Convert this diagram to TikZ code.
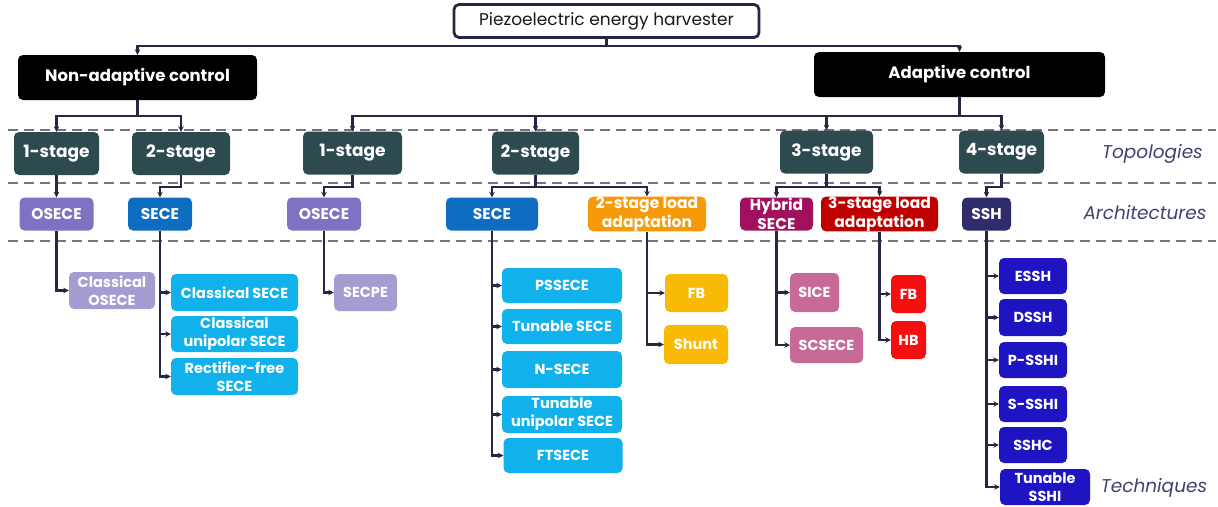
\documentclass[tikz,border=0pt]{standalone}
\usepackage{fontspec}
\setmainfont{Poppins}
\usetikzlibrary{arrows.meta}

\definecolor{topoc}{HTML}{2D4A4F}
\definecolor{osecec}{HTML}{7E72C2}
\definecolor{secec}{HTML}{0E6DC1}
\definecolor{loadtwoc}{HTML}{F79A0A}
\definecolor{hybridc}{HTML}{A1105D}
\definecolor{loadthreec}{HTML}{C00000}
\definecolor{sshc}{HTML}{2F2C6C}
\definecolor{lavc}{HTML}{A39DD1}
\definecolor{cyanc}{HTML}{11B1EC}
\definecolor{goldc}{HTML}{F8BA05}
\definecolor{pinkc}{HTML}{C86A98}
\definecolor{redc}{HTML}{F60F0F}
\definecolor{indigoc}{HTML}{1E14C2}
\definecolor{linec}{HTML}{262645}
\definecolor{labc}{HTML}{3F4270}
\definecolor{dashc}{HTML}{737382}

\begin{document}
\begin{tikzpicture}[x=1pt,y=-1pt,
  box/.style={rounded corners=5pt,text=white,align=center,inner sep=0pt},
  ctrl/.style={box,fill=black,font=\fontsize{16.5}{19}\selectfont\bfseries},
  topo/.style={box,fill=topoc,minimum height=43pt,font=\fontsize{17}{19}\selectfont\bfseries},
  arch/.style={box,minimum height=33pt,font=\fontsize{15.5}{19}\selectfont\bfseries},
  tech/.style={box,font=\fontsize{14.5}{18}\selectfont\bfseries},
  side/.style={text=labc,font=\fontsize{18.5}{22}\selectfont\itshape},
  sep/.style={draw=dashc,line width=2.4pt,dash pattern=on 10pt off 6pt},
  conn/.style={draw=linec,line width=2.2pt,-{Stealth[length=5.5pt,width=5.5pt]}}]
  \useasboundingbox (0,0) rectangle (1218,506);

  \draw[sep] (8,130) -- (1216,130);
  \draw[sep] (8,183) -- (1216,183);
  \draw[sep] (8,241) -- (1216,241);

  \node[box,draw=linec,line width=2.8pt,fill=white,text=black!90,minimum width=305pt,minimum height=33pt,font=\fontsize{17}{19}\selectfont] (P) at (606.5,21) {Piezoelectric energy harvester};
  \node[ctrl,minimum width=239pt,minimum height=45pt] (N) at (137.5,77.5) {Non-adaptive control};
  \node[ctrl,minimum width=291pt,minimum height=45pt] (A) at (959.5,74.5) {Adaptive control};

  \node[topo,minimum width=85pt] (T1a) at (56.5,153.5) {1-stage};
  \node[topo,minimum width=98pt] (T2a) at (181,153.5) {2-stage};
  \node[topo,minimum width=99pt] (T1b) at (352.5,153) {1-stage};
  \node[topo,minimum width=87pt] (T2b) at (535.5,153) {2-stage};
  \node[topo,minimum width=93pt] (T3) at (826.5,152) {3-stage};
  \node[topo,minimum width=85pt] (T4) at (1001.5,152) {4-stage};

  \node[arch,fill=osecec,minimum width=74pt] (O1) at (56.5,214) {OSECE};
  \node[arch,fill=secec,minimum width=64pt] (S1) at (160,214) {SECE};
  \node[arch,fill=osecec,minimum width=74pt] (O2) at (324,214) {OSECE};
  \node[arch,fill=secec,minimum width=92pt] (S2) at (492,214) {SECE};
  \node[arch,fill=loadtwoc,minimum width=118pt] (L2) at (647,214) {2-stage load\\adaptation};
  \node[arch,fill=hybridc,minimum width=73pt] (HY) at (776.5,214) {Hybrid\\SECE};
  \node[arch,fill=loadthreec,minimum width=117pt] (L3) at (879.5,214) {3-stage load\\adaptation};
  \node[arch,fill=sshc,minimum width=49pt] (SH) at (986.5,214) {SSH};

  \node[tech,fill=lavc,minimum width=86pt,minimum height=37pt] (CO) at (112,290.5) {Classical\\OSECE};
  \node[tech,fill=cyanc,minimum width=127pt,minimum height=37pt] (CS) at (234.5,292.5) {Classical SECE};
  \node[tech,fill=cyanc,minimum width=127pt,minimum height=36pt] (CU) at (234.5,334) {Classical\\unipolar SECE};
  \node[tech,fill=cyanc,minimum width=127pt,minimum height=37pt] (RF) at (234.5,376.5) {Rectifier-free\\SECE};
  \node[tech,fill=lavc,minimum width=63pt,minimum height=37pt] (SP) at (365.5,292.5) {SECPE};

  \node[tech,fill=cyanc,minimum width=120pt,minimum height=35pt] (PS) at (562,285.5) {PSSECE};
  \node[tech,fill=cyanc,minimum width=120pt,minimum height=35pt] (TS) at (562,326.5) {Tunable SECE};
  \node[tech,fill=cyanc,minimum width=120pt,minimum height=37pt] (NS) at (562,369.5) {N-SECE};
  \node[tech,fill=cyanc,minimum width=120pt,minimum height=37pt] (TU) at (562,414.5) {Tunable\\unipolar SECE};
  \node[tech,fill=cyanc,minimum width=119pt,minimum height=35pt] (FT) at (563,455.5) {FTSECE};

  \node[tech,fill=goldc,minimum width=63pt,minimum height=38pt] (FBa) at (696.5,293) {FB};
  \node[tech,fill=goldc,minimum width=64pt,minimum height=39pt] (SU) at (696,344.5) {Shunt};
  \node[tech,fill=pinkc,minimum width=49pt,minimum height=39pt] (SI) at (814.5,292.5) {SICE};
  \node[tech,fill=pinkc,minimum width=73pt,minimum height=36pt] (SC) at (826.5,345) {SCSECE};
  \node[tech,fill=redc,minimum width=35pt,minimum height=38pt] (FBb) at (908.5,294) {FB};
  \node[tech,fill=redc,minimum width=35pt,minimum height=38pt] (HB) at (908.5,340) {HB};

  \node[tech,fill=indigoc,minimum width=68pt,minimum height=36pt] (E1) at (1033,276) {ESSH};
  \node[tech,fill=indigoc,minimum width=68pt,minimum height=37pt] (E2) at (1033,317.5) {DSSH};
  \node[tech,fill=indigoc,minimum width=68pt,minimum height=36pt] (E3) at (1033,360) {P-SSHI};
  \node[tech,fill=indigoc,minimum width=68pt,minimum height=36pt] (E4) at (1033,404) {S-SSHI};
  \node[tech,fill=indigoc,minimum width=68pt,minimum height=36pt] (E5) at (1033,445) {SSHC};
  \node[tech,fill=indigoc,minimum width=90pt,minimum height=36pt] (E6) at (1045,487) {Tunable\\SSHI};

  \node[side] (LT) at (1152.5,154) {Topologies};
  \node[side] (LA) at (1145,213) {Architectures};
  \node[side] (LQ) at (1154,488) {Techniques};

  \draw[conn] (P.south) -- ++(0,7) -| (N.north);
  \draw[conn] (P.south) -- ++(0,7) -| (A.north);
  \draw[conn] (N.south) -- ++(0,16) -| (T1a.north);
  \draw[conn] (N.south) -- ++(0,16) -| (T2a.north);
  \draw[conn] (A.south) -- ++(0,19) -| (T1b.north);
  \draw[conn] (A.south) -- ++(0,19) -| (T2b.north);
  \draw[conn] (A.south) -- ++(0,19) -| (T3.north);
  \draw[conn] (A.south) -- ++(0,19) -| (T4.north);

  \draw[conn] (T1a.south) -- (O1.north);
  \draw[conn] (T2a.south) -- ++(0,12) -| (S1.north);
  \draw[conn] (T1b.south) -- ++(0,12) -| (O2.north);
  \draw[conn] (T2b.south) -- ++(0,12) -| (S2.north);
  \draw[conn] (T2b.south) -- ++(0,12) -| (L2.north);
  \draw[conn] (T3.south) -- ++(0,13) -| (HY.north);
  \draw[conn] (T3.south) -- ++(0,13) -| (L3.north);
  \draw[conn] (T4.south) -- ++(0,13) -| (SH.north);

  \draw[conn] (O1.south) |- (CO.west);
  \draw[conn] (S1.south) |- (CS.west);
  \draw[conn] (S1.south) |- (CU.west);
  \draw[conn] (S1.south) |- (RF.west);
  \draw[conn] (O2.south) |- (SP.west);
  \draw[conn] (S2.south) |- (PS.west);
  \draw[conn] (S2.south) |- (TS.west);
  \draw[conn] (S2.south) |- (NS.west);
  \draw[conn] (S2.south) |- (TU.west);
  \draw[conn] (S2.south) |- (FT.west);
  \draw[conn] (L2.south) |- (FBa.west);
  \draw[conn] (L2.south) |- (SU.west);
  \draw[conn] (HY.south) |- (SI.west);
  \draw[conn] (HY.south) |- (SC.west);
  \draw[conn] (L3.south) |- (FBb.west);
  \draw[conn] (L3.south) |- (HB.west);
  \draw[conn] (SH.south) |- (E1.west);
  \draw[conn] (SH.south) |- (E2.west);
  \draw[conn] (SH.south) |- (E3.west);
  \draw[conn] (SH.south) |- (E4.west);
  \draw[conn] (SH.south) |- (E5.west);
  \draw[conn] (SH.south) |- (E6.west);
\end{tikzpicture}
\end{document}
